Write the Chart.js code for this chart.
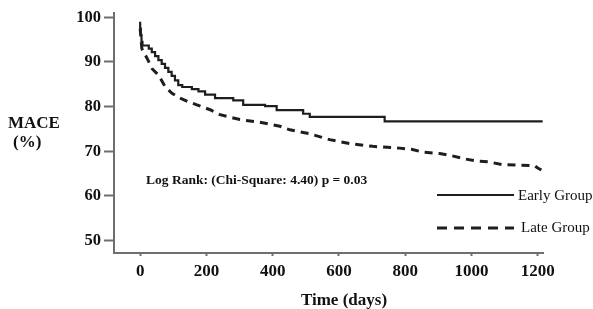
<!DOCTYPE html>
<html lang="en">
<head>
    <meta charset="UTF-8">
    <title>MACE Kaplan-Meier</title>
    <script src="https://cdn.jsdelivr.net/npm/chart.js"></script>
    <style>
        body {
            margin: 0;
            padding: 0;
            background: #ffffff;
        }
        #wrap {
            width: 593px;
            height: 309px;
        }
    </style>
</head>
<body>
    <div id="wrap">
        <canvas id="kmChart" width="593" height="309"></canvas>
    </div>
    <script>
        // Early group (solid) - time in days, event-free %
        const earlyDays = [0, 2, 4, 7, 26, 35, 45, 55, 65, 75, 85, 95, 105, 115, 127, 156, 176, 196, 226, 281, 311, 377, 412, 492, 512, 738, 768, 1215];
        const earlySurv = [99.0, 97.5, 96.0, 94.5, 93.7, 93.0, 92.2, 91.3, 90.4, 89.6, 88.7, 87.8, 86.9, 85.9, 84.8, 84.4, 83.9, 83.4, 82.7, 81.9, 81.4, 80.4, 80.1, 79.2, 78.4, 77.7, 76.7, 76.7];

        // Late group (dashed)
        const lateDays = [0, 5, 21, 36, 56, 76, 96, 121, 145, 171, 211, 241, 301, 361, 422, 452, 512, 572, 633, 702, 783, 822, 852, 904, 940, 979, 1015, 1054, 1093, 1190, 1199, 1211];
        const lateSurv = [97.5, 93.0, 90.8, 88.5, 87.0, 84.4, 83.0, 81.9, 81.1, 80.4, 79.3, 78.2, 77.1, 76.5, 75.6, 74.8, 73.9, 72.6, 71.7, 71.1, 70.7, 70.4, 69.8, 69.5, 69.0, 68.3, 67.8, 67.6, 67.0, 66.8, 66.3, 65.8];

        const xTicks = [0, 200, 400, 600, 800, 1000, 1200];
        const yTicks = [50, 60, 70, 80, 90, 100];

        const seriesNames = ['Early Group', 'Late Group'];
        const statText = 'Log Rank: (Chi-Square: 4.40) p = 0.03';

        const toPoints = (xs, ys) => xs.map((x, i) => ({ x: x, y: ys[i] }));

        const serif = "'Liberation Serif', 'DejaVu Serif', serif";
        const lineColor = '#1e1e1e';
        const axisColor = '#6e6e6e';

        // texte + legende dessines a la main
        const extraText = {
            id: 'extraText',
            afterDraw(chart) {
                const c = chart.ctx;
                c.save();
                c.fillStyle = '#111';
                c.textBaseline = 'middle';

                c.font = 'bold 17px ' + serif;
                c.textAlign = 'left';
                c.fillText('MACE', 8, 124);
                c.fillText('(%)', 13, 143);

                c.textAlign = 'center';
                c.fillText('Time (days)', 344, 301);

                c.font = 'bold 13.5px ' + serif;
                c.textAlign = 'left';
                c.fillText(statText, 146, 181);

                // legende
                c.strokeStyle = lineColor;
                c.lineWidth = 2;
                c.beginPath();
                c.moveTo(437, 195);
                c.lineTo(514, 195);
                c.stroke();

                c.lineWidth = 3;
                c.setLineDash([10, 7]);
                c.beginPath();
                c.moveTo(437, 228);
                c.lineTo(514, 228);
                c.stroke();
                c.setLineDash([]);

                c.font = '15px ' + serif;
                c.fillText(seriesNames[0], 518, 196);
                c.fillText(seriesNames[1], 521, 228);
                c.restore();
            }
        };

        const ctx = document.getElementById('kmChart').getContext('2d');
        const kmChart = new Chart(ctx, {
            type: 'line',
            data: {
                datasets: [{
                    label: seriesNames[0],
                    data: toPoints(earlyDays, earlySurv),
                    borderColor: lineColor,
                    borderWidth: 2.2,
                    stepped: 'after',
                    pointRadius: 0,
                    fill: false
                }, {
                    label: seriesNames[1],
                    data: toPoints(lateDays, lateSurv),
                    borderColor: lineColor,
                    borderWidth: 3,
                    borderDash: [8, 6],
                    tension: 0,
                    pointRadius: 0,
                    fill: false
                }]
            },
            options: {
                responsive: false,
                animation: false,
                layout: {
                    padding: { left: 64, right: 50, top: 12, bottom: 26 }
                },
                plugins: {
                    legend: { display: false },
                    tooltip: { enabled: false }
                },
                scales: {
                    x: {
                        type: 'linear',
                        min: -79,
                        max: 1216,
                        afterBuildTicks: s => { s.ticks = xTicks.map(v => ({ value: v })); },
                        afterFit: s => { s.height = 30; },
                        grid: {
                            drawOnChartArea: false,
                            color: axisColor,
                            tickLength: 3,
                            tickWidth: 2
                        },
                        border: { color: axisColor, width: 2 },
                        ticks: {
                            color: '#111',
                            padding: 5,
                            maxRotation: 0,
                            callback: v => String(v),
                            font: { family: serif, size: 17, weight: 'bold' }
                        }
                    },
                    y: {
                        min: 47.2,
                        max: 101,
                        afterBuildTicks: s => { s.ticks = yTicks.map(v => ({ value: v })); },
                        afterFit: s => { s.width = 50; },
                        grid: {
                            drawOnChartArea: false,
                            color: axisColor,
                            tickLength: 10,
                            tickWidth: 2
                        },
                        border: { color: axisColor, width: 2 },
                        ticks: {
                            color: '#111',
                            padding: 3,
                            callback: v => String(v),
                            font: { family: serif, size: 16.5, weight: 'bold' }
                        }
                    }
                }
            },
            plugins: [extraText]
        });
    </script>
</body>
</html>
